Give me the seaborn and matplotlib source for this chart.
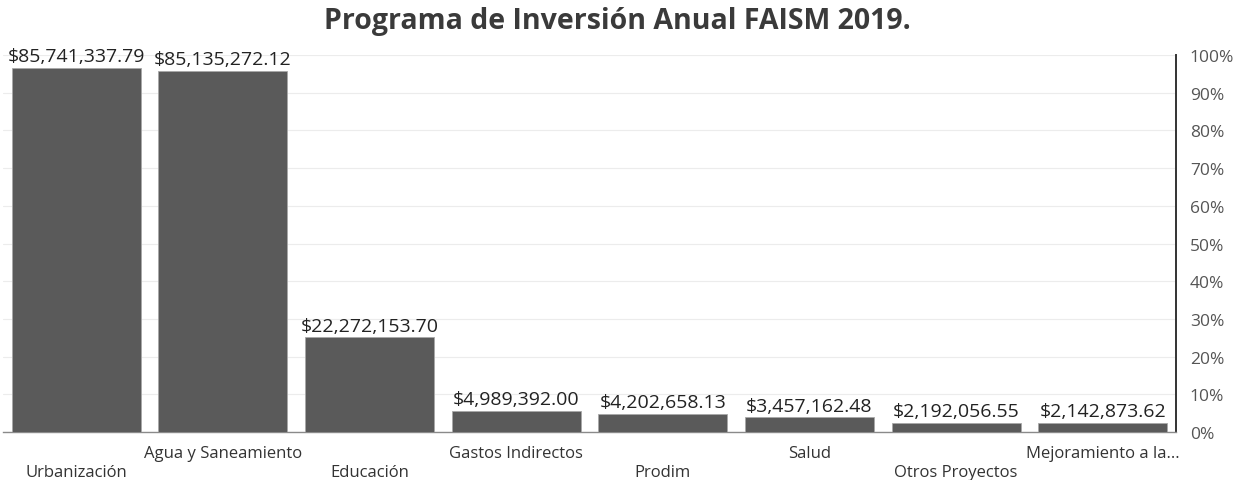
import matplotlib
matplotlib.use("Agg")
import matplotlib.pyplot as plt
import seaborn as sns
import pandas as pd

categorias = ["Urbanización", "Agua y Saneamiento", "Educación", "Gastos Indirectos",
              "Prodim", "Salud", "Otros Proyectos", "Mejoramiento a la..."]
montos = [85741337.79, 85135272.12, 22272153.70, 4989392.00,
          4202658.13, 3457162.48, 2192056.55, 2142873.62]
porcentajes = [0, 10, 20, 30, 40, 50, 60, 70, 80, 90, 100]
titulo = "Programa de Inversión Anual FAISM 2019."

sns.set_theme(style="white")
plt.rcParams["font.family"] = ["Open Sans", "DejaVu Sans"]

df = pd.DataFrame({"categoria": categorias, "monto": montos})

fig = plt.figure(figsize=(12.42, 4.81), dpi=100)
ax = fig.add_axes([3/1242, 48/481, 1173/1242, 377/481])

sns.barplot(data=df, x="categoria", y="monto", color="#5a5a5a", width=0.88,
            saturation=1, ax=ax, zorder=3)
for p in ax.patches:
    p.set_edgecolor("#a8a8a8")
    p.set_linewidth(0.6)

ax.set_ylim(0, 88.8e6)
ax.set_xlim(-0.5, len(categorias) - 0.5)
ax.set_yticks([])
ax.set_xlabel("")
ax.set_ylabel("")

labels = ["${:,.2f}".format(v) for v in montos]
ax.bar_label(ax.containers[0], labels=labels, padding=2, fontsize=14, color="#222222")

for side in ["top", "left", "right"]:
    ax.spines[side].set_visible(False)
ax.spines["bottom"].set_color("#8a8a8a")
ax.spines["bottom"].set_linewidth(1.0)

ax.tick_params(axis="x", length=0, labelsize=12, labelcolor="#333333")
for i, t in enumerate(ax.xaxis.get_major_ticks()):
    t.set_pad(9.5 if i % 2 == 1 else 23)

ax2 = ax.twinx()
ax2.set_ylim(0, 100)
ax2.set_yticks(porcentajes)
ax2.set_yticklabels([f"{p}%" for p in porcentajes])
ax2.tick_params(axis="y", length=0, pad=10, labelsize=12.5, labelcolor="#555555")
ax2.grid(axis="y", color="#ececec", linewidth=0.8)
ax2.set_axisbelow(True)
for side in ["top", "left", "bottom"]:
    ax2.spines[side].set_visible(False)
ax2.spines["right"].set_color("#333333")
ax2.spines["right"].set_linewidth(1.4)
ax.set_zorder(ax2.get_zorder() + 1)
ax.patch.set_visible(False)

fig.text(0.497, 1 - 21/481, titulo, ha="center", va="center", fontsize=20.5,
         fontweight="bold", color="#3a3a3a")

fig.savefig("out.png", dpi=100, facecolor="white")
